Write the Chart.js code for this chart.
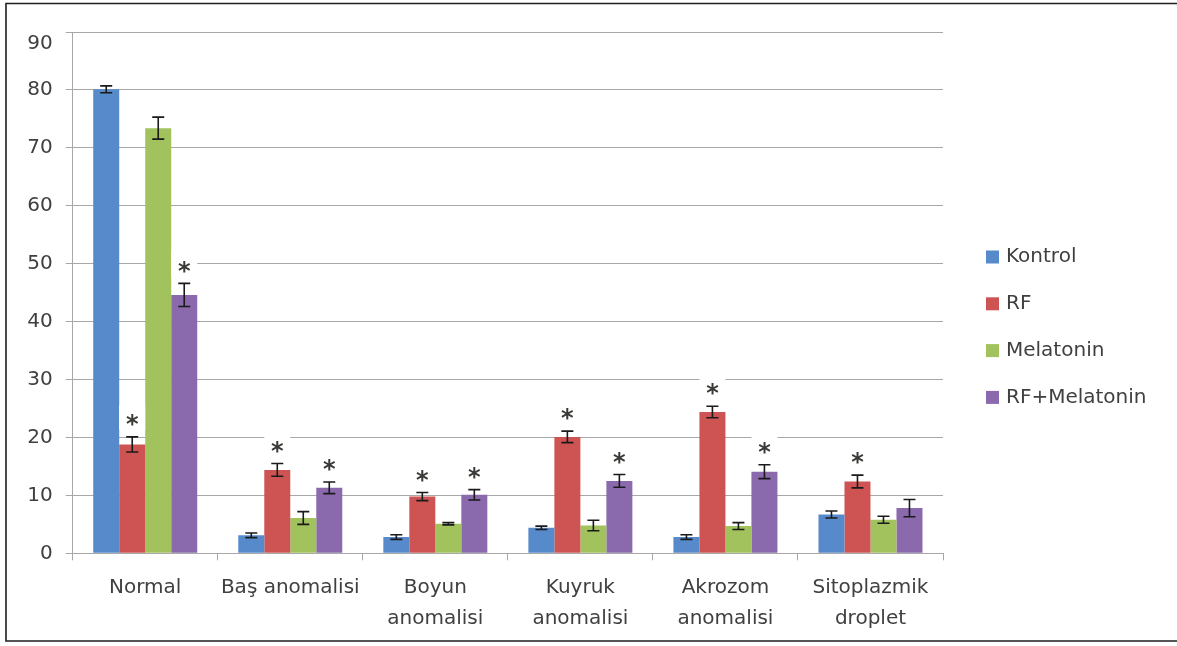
<!DOCTYPE html>
<html>
<head>
<meta charset="utf-8">
<script src="https://cdn.jsdelivr.net/npm/chart.js@4.4.1/dist/chart.umd.min.js"></script>
<style>
  html, body { margin: 0; padding: 0; background: #ffffff; }
  canvas { display: block; }
</style>
</head>
<body>
<canvas id="c" width="1177" height="646"></canvas>
<script>
// Categories of sperm morphology
const categories = ['Normal', 'Baş anomalisi', ['Boyun', 'anomalisi'], ['Kuyruk', 'anomalisi'], ['Akrozom', 'anomalisi'], ['Sitoplazmik', 'droplet']];
const seriesNames = ['Kontrol', 'RF', 'Melatonin', 'RF+Melatonin'];
const seriesColors = ['#568ACB', '#CD5452', '#A2C25E', '#8A69AD'];

// Mean values (%) and their error margins
const kontrol = [80.1, 3.1, 2.8, 4.4, 2.8, 6.7];
const kontrolErr = [0.6, 0.4, 0.4, 0.3, 0.4, 0.6];
const rf = [18.8, 14.4, 9.8, 20.1, 24.4, 12.4];
const rfErr = [1.3, 1.1, 0.7, 1.0, 1.0, 1.1];
const melatonin = [73.4, 6.1, 5.1, 4.8, 4.7, 5.8];
const melatoninErr = [1.9, 1.1, 0.2, 0.9, 0.6, 0.6];
const rfMelatonin = [44.6, 11.3, 10.1, 12.5, 14.1, 7.8];
const rfMelatoninErr = [2.0, 1.0, 0.9, 1.1, 1.2, 1.5];

// Significance markers (*)
const kontrolSig = [false, false, false, false, false, false];
const rfSig = [true, true, true, true, true, true];
const melatoninSig = [false, false, false, false, false, false];
const rfMelatoninSig = [true, true, true, true, true, false];

// Value axis ticks
const yTicks = [0, 10, 20, 30, 40, 50, 60, 70, 80, 90];

const values = [kontrol, rf, melatonin, rfMelatonin];
const errors = [kontrolErr, rfErr, melatoninErr, rfMelatoninErr];
const sigs = [kontrolSig, rfSig, melatoninSig, rfMelatoninSig];

const FONT = '"DejaVu Sans", Verdana, sans-serif';
const TEXT = '#404040';
const GRID = '#a8a8a8';

const datasets = seriesNames.map((name, i) => ({
  label: name,
  data: values[i],
  errors: errors[i],
  significant: sigs[i],
  backgroundColor: seriesColors[i],
  borderWidth: 0,
  categoryPercentage: 0.717,
  barPercentage: 1.0
}));

// Error bars and significance stars
const annotations = {
  id: 'annotations',
  afterDatasetsDraw(chart) {
    const ctx = chart.ctx;
    const y = chart.scales.y;
    const items = [];
    chart.data.datasets.forEach((ds, i) => {
      const meta = chart.getDatasetMeta(i);
      meta.data.forEach((bar, j) => {
        const v = ds.data[j], e = ds.errors[j];
        items.push({ x: bar.x, top: y.getPixelForValue(v + e), bottom: y.getPixelForValue(v - e), sig: ds.significant[j] });
      });
    });
    ctx.save();
    // white label boxes behind the stars
    ctx.fillStyle = '#ffffff';
    items.forEach(it => {
      if (!it.sig) return;
      const cy = it.top - 17;
      ctx.fillRect(it.x - 13, cy - 15, 26, 25);
    });
    // error bars
    ctx.strokeStyle = '#1a1a1a';
    ctx.lineWidth = 1.6;
    items.forEach(it => {
      ctx.beginPath();
      ctx.moveTo(it.x, it.top); ctx.lineTo(it.x, it.bottom);
      ctx.moveTo(it.x - 6, it.top); ctx.lineTo(it.x + 6, it.top);
      ctx.moveTo(it.x - 6, it.bottom); ctx.lineTo(it.x + 6, it.bottom);
      ctx.stroke();
    });
    // stars
    ctx.fillStyle = '#3c3a37';
    ctx.font = 'bold 24px ' + FONT;
    ctx.textAlign = 'center';
    ctx.textBaseline = 'middle';
    items.forEach(it => {
      if (!it.sig) return;
      ctx.fillText('*', it.x, it.top - 11);
    });
    ctx.restore();
  }
};

// Frame, legend and the top value label
const decorations = {
  id: 'decorations',
  beforeDraw(chart) {
    const ctx = chart.ctx;
    ctx.save();
    ctx.fillStyle = '#ffffff';
    ctx.fillRect(0, 0, chart.width, chart.height);
    ctx.restore();
  },
  afterDraw(chart) {
    const ctx = chart.ctx;
    const y = chart.scales.y;
    ctx.save();
    // top tick label sits slightly lower
    ctx.font = '20px ' + FONT;
    ctx.fillStyle = TEXT;
    ctx.textAlign = 'right';
    ctx.textBaseline = 'middle';
    ctx.fillText(String(yTicks[yTicks.length - 1]), chart.chartArea.left - 20, y.getPixelForValue(yTicks[yTicks.length - 1]) + 11.5);
    // legend
    ctx.textAlign = 'left';
    chart.data.datasets.forEach((ds, i) => {
      const cy = 257 + i * 46.8;
      ctx.fillStyle = ds.backgroundColor;
      ctx.fillRect(986, cy - 6.5, 13, 13);
      ctx.fillStyle = TEXT;
      ctx.fillText(ds.label, 1006, cy);
    });
    // outer frame (open on the right)
    ctx.strokeStyle = '#1e1e1e';
    ctx.lineWidth = 1.6;
    ctx.beginPath();
    ctx.moveTo(chart.width, 3.5);
    ctx.lineTo(6, 3.5);
    ctx.lineTo(6, 641);
    ctx.lineTo(chart.width, 641);
    ctx.stroke();
    ctx.restore();
  }
};

new Chart(document.getElementById('c'), {
  type: 'bar',
  data: { labels: categories, datasets },
  options: {
    responsive: false,
    animation: false,
    devicePixelRatio: 1,
    layout: { padding: { left: 0, top: 32, right: 234, bottom: 0 } },
    plugins: { legend: { display: false }, tooltip: { enabled: false } },
    scales: {
      x: {
        grid: { display: true, drawOnChartArea: false, drawTicks: true, tickLength: 7, color: GRID, offset: true },
        border: { display: true, color: GRID, width: 1 },
        ticks: { autoSkip: false, maxRotation: 0, minRotation: 0, padding: 12, color: TEXT, font: { family: FONT, size: 20, lineHeight: 1.55 } },
        afterFit(scale) { scale.height = 92.7; }
      },
      y: {
        min: 0,
        max: 90,
        afterBuildTicks(scale) { scale.ticks = yTicks.map(v => ({ value: v })); },
        grid: { color: GRID, lineWidth: 1, drawTicks: true, tickLength: 7 },
        border: { display: true, color: GRID, width: 1 },
        ticks: {
          padding: 13,
          color: TEXT,
          font: { family: FONT, size: 20 },
          callback: (v) => (v === yTicks[yTicks.length - 1] ? '' : String(v))
        },
        afterFit(scale) { scale.width = 72.7; }
      }
    }
  },
  plugins: [annotations, decorations]
});
</script>
</body>
</html>
